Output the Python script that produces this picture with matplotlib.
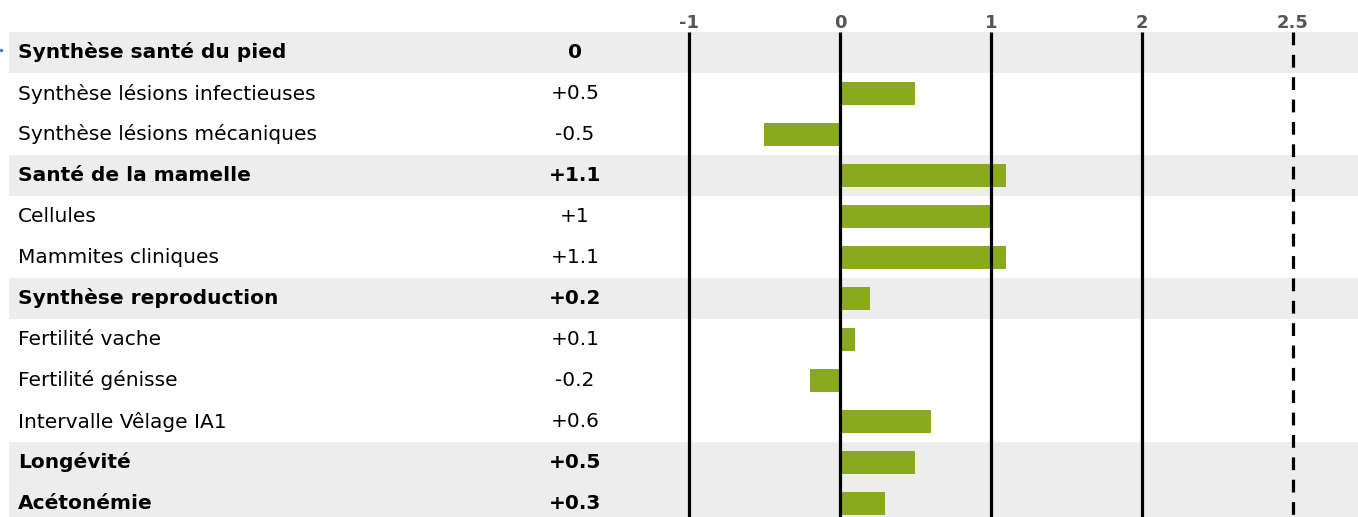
import matplotlib
matplotlib.use("Agg")
import matplotlib.pyplot as plt
from matplotlib.patches import Rectangle

labels = ["Synthèse santé du pied", "Synthèse lésions infectieuses", "Synthèse lésions mécaniques",
          "Santé de la mamelle", "Cellules", "Mammites cliniques",
          "Synthèse reproduction", "Fertilité vache", "Fertilité génisse",
          "Intervalle Vêlage IA1", "Longévité", "Acétonémie"]
values = [0, 0.5, -0.5, 1.1, 1.0, 1.1, 0.2, 0.1, -0.2, 0.6, 0.5, 0.3]
value_text = ["0", "+0.5", "-0.5", "+1.1", "+1", "+1.1", "+0.2", "+0.1", "-0.2", "+0.6", "+0.5", "+0.3"]
is_header = [True, False, False, True, False, False, True, False, False, False, True, True]
solid_positions = [-1, 0, 1, 2]
dashed_position = 3
tick_labels = ["-1", "0", "1", "2", "2.5"]
tick_positions = [-1, 0, 1, 2, 3]

W, H = 1358, 517
fig = plt.figure(figsize=(W / 100, H / 100), dpi=100)
ax = fig.add_axes([0, 0, 1, 1])
ax.axis("off")

px_per_unit = 151.0
x0_px = 840.0
row_h = 41.0
first_center = 52.5
xl = (0 - x0_px) / px_per_unit
xr = (W - x0_px) / px_per_unit
yt = (0 - first_center) / row_h
yb = (H - first_center) / row_h
ax.set_xlim(xl, xr)
ax.set_ylim(yb, yt)

def px2x(px):
    return (px - x0_px) / px_per_unit

n = len(labels)
for i in range(n):
    if is_header[i]:
        ax.add_patch(Rectangle((px2x(9), i - 0.5), xr - px2x(9), 1.0,
                               facecolor="#EDEDED", edgecolor="none", zorder=0))
    w = "bold" if is_header[i] else "normal"
    ax.text(px2x(18), i, labels[i], ha="left", va="center", fontsize=14.5,
            fontweight=w, color="black", zorder=3)
    ax.text(px2x(575), i, value_text[i], ha="center", va="center", fontsize=14.5,
            fontweight=w, color="black", zorder=3)

ax.barh(range(n), values, height=0.585, left=0, color="#89AA1F", zorder=1)

line_top = -0.5
for v in solid_positions:
    ax.plot([v, v], [line_top, yb], color="black", lw=2.3, zorder=2, solid_capstyle="butt")
ax.plot([dashed_position, dashed_position], [line_top, yb], color="black", lw=2.3, zorder=2,
        linestyle=(0, (4, 3)))

for v, t in zip(tick_positions, tick_labels):
    ax.text(v, yt + 22.5 / row_h, t, ha="center", va="center", fontsize=13,
            fontweight="bold", color="#555555")

ax.plot([px2x(1.5)], [yt + 50 / row_h], marker="o", ms=1.5, color="#3a7bd5", zorder=3)

fig.savefig("out.png", dpi=100)
